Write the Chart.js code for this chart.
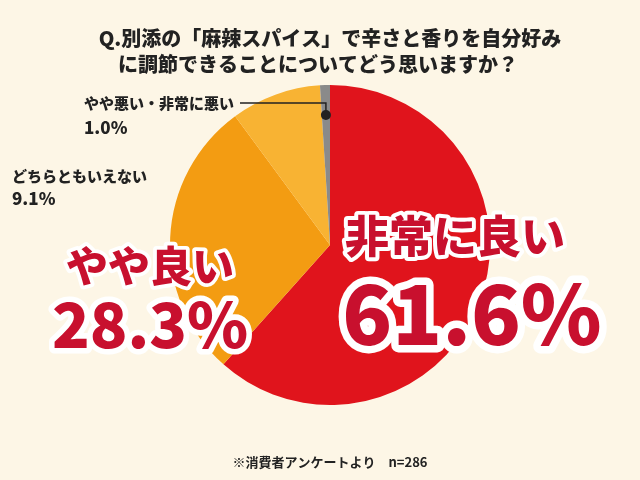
<!DOCTYPE html>
<html>
<head>
<meta charset="utf-8">
<script src="https://cdn.jsdelivr.net/npm/chart.js@4/dist/chart.umd.min.js"></script>
<style>
  html, body { margin: 0; padding: 0; background: #fdf6e6; }
  canvas { display: block; }
</style>
</head>
<body>
<canvas id="pie" width="640" height="480"></canvas>
<script>
const categories = ['非常に良い', 'やや良い', 'どちらともいえない', 'やや悪い・非常に悪い'];
const values = [61.6, 28.3, 9.1, 1.0];
const colors = ['#e0141c', '#f39c12', '#f8b333', '#8a8a8a'];
const titleLines = ['Q.別添の「麻辣スパイス」で辛さと香りを自分好み', 'に調節できることについてどう思いますか？'];
const footnote = '※消費者アンケートより　n=286';

const FONT = '"Noto Sans CJK JP", "Noto Sans", sans-serif';

function outlined(ctx, text, x, y, size, align) {
  ctx.font = `900 ${size}px ${FONT}`;
  ctx.textAlign = align || 'center';
  ctx.textBaseline = 'middle';
  ctx.lineJoin = 'round';
  ctx.lineWidth = size * 0.18;
  ctx.strokeStyle = '#ffffff';
  ctx.strokeText(text, x, y);
  ctx.fillStyle = '#c8102e';
  ctx.fillText(text, x, y);
}

const labelsPlugin = {
  id: 'labels',
  afterDraw(chart) {
    const ctx = chart.ctx;
    const pct = v => v.toFixed(1) + '%';
    ctx.save();
    // title
    ctx.fillStyle = '#222';
    ctx.font = `900 20px ${FONT}`;
    ctx.textAlign = 'center';
    ctx.textBaseline = 'middle';
    ctx.fillText(titleLines[0], 330, 38);
    ctx.fillText(titleLines[1], 318, 64);
    // footnote
    ctx.font = `bold 13px ${FONT}`;
    ctx.fillText(footnote, 330, 462);
    // small labels
    ctx.textAlign = 'left';
    ctx.font = `900 15px ${FONT}`;
    ctx.fillText(categories[3], 84, 103);
    const lineStart = 84 + ctx.measureText(categories[3]).width + 6;
    ctx.font = `900 17px ${FONT}`;
    ctx.fillText(pct(values[3]), 84, 128);
    ctx.font = `900 15px ${FONT}`;
    ctx.fillText(categories[2], 12, 176);
    ctx.font = `900 17px ${FONT}`;
    ctx.fillText(pct(values[2]), 12, 199);
    // leader line to the thin slice
    const arc = chart.getDatasetMeta(0).data[3];
    const mid = (arc.startAngle + arc.endAngle) / 2;
    const px = arc.x + Math.cos(mid) * (arc.outerRadius - 30);
    const py = arc.y + Math.sin(mid) * (arc.outerRadius - 30);
    ctx.strokeStyle = '#222';
    ctx.lineWidth = 1.5;
    ctx.beginPath();
    ctx.moveTo(lineStart, 103);
    ctx.lineTo(px, 103);
    ctx.lineTo(px, py);
    ctx.stroke();
    ctx.fillStyle = '#222';
    ctx.beginPath();
    ctx.arc(px, py, 5, 0, Math.PI * 2);
    ctx.fill();
    // big labels
    outlined(ctx, categories[0], 455, 236, 44);
    outlined(ctx, pct(values[0]), 472, 314, 82);
    outlined(ctx, categories[1], 150, 266, 42);
    outlined(ctx, pct(values[1]), 150, 324, 62);
    ctx.restore();
  }
};

new Chart(document.getElementById('pie').getContext('2d'), {
  type: 'pie',
  data: {
    labels: categories,
    datasets: [{ data: values, backgroundColor: colors, borderWidth: 0 }]
  },
  options: {
    responsive: false,
    animation: false,
    layout: { padding: { left: 170, right: 150, top: 85, bottom: 75 } },
    plugins: { legend: { display: false }, tooltip: { enabled: false } }
  },
  plugins: [labelsPlugin]
});
</script>
</body>
</html>
